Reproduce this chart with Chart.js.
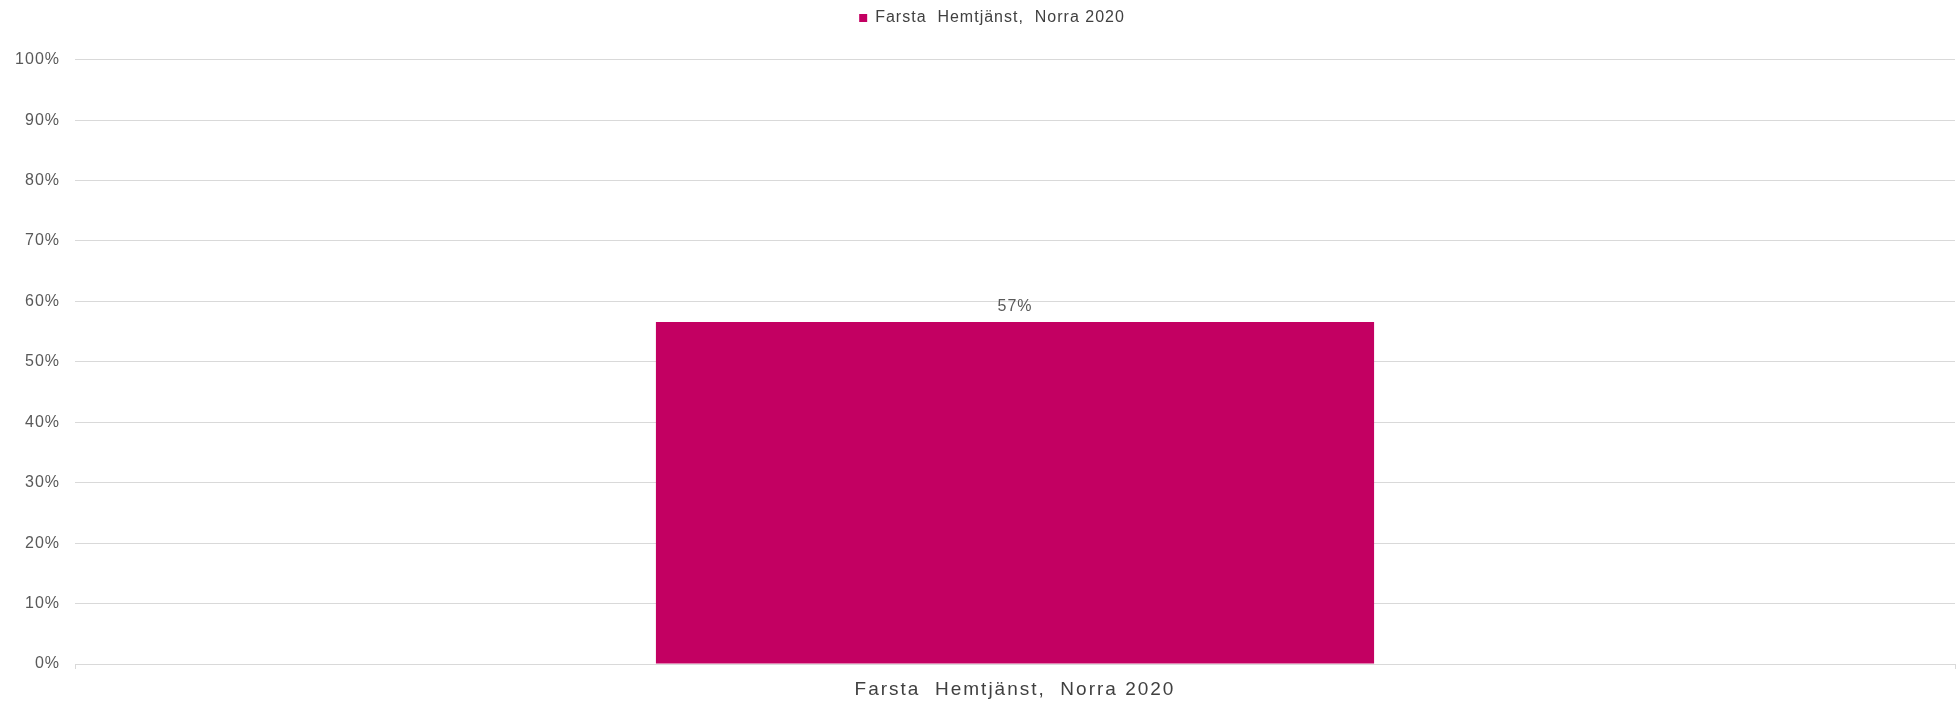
<!DOCTYPE html>
<html>
<head>
<meta charset="utf-8">
<script src="https://cdn.jsdelivr.net/npm/chart.js@4/dist/chart.umd.min.js"></script>
<style>
  html, body { margin: 0; padding: 0; background: #ffffff; }
  canvas { display: block; }
</style>
</head>
<body>
<canvas id="c" width="1959" height="704"></canvas>
<script>
const categories = ['Farsta  Hemtjänst,  Norra 2020'];
const seriesName = 'Farsta  Hemtjänst,  Norra 2020';
const values = [56.6];
const yMin = 0;
const yMax = 100;
const yStep = 10;

const FONT = "'Liberation Sans', Arial, sans-serif";
const TEXT = '#595959';
const DARK = '#404040';
const GRID = '#D9D9D9';
const BAR = '#C30062';

const spacingPlugin = {
  id: 'spacing',
  beforeUpdate(chart) { chart.ctx.letterSpacing = '1px'; },
  afterLayout(chart) {
    if (chart.legend) {
      chart.legend.left += 29;
      chart.legend.top += 1;
      chart.legend.bottom += 1;
    }
  },
  beforeDraw(chart) {
    chart.ctx.letterSpacing = '1px';
    const xs = chart.scales.x;
    if (xs && !xs._patched) {
      const orig = xs.drawLabels;
      xs.drawLabels = function (a) {
        const c = this.ctx; c.save(); c.letterSpacing = '2px'; orig.call(this, a); c.restore();
      };
      xs._patched = true;
    }
  }
};

const valueLabels = {
  id: 'valueLabels',
  afterDatasetsDraw(chart) {
    const ctx = chart.ctx;
    chart.data.datasets.forEach((ds, di) => {
      const meta = chart.getDatasetMeta(di);
      meta.data.forEach((el, i) => {
        ctx.save();
        ctx.letterSpacing = '1px';
        ctx.font = '16px ' + FONT;
        ctx.fillStyle = TEXT;
        ctx.textAlign = 'center';
        ctx.textBaseline = 'middle';
        ctx.fillText(Math.round(ds.data[i]) + '%', el.x, el.y - 15);
        ctx.restore();
      });
    });
  }
};

new Chart(document.getElementById('c'), {
  type: 'bar',
  data: {
    labels: categories,
    datasets: [{
      label: seriesName,
      data: values,
      backgroundColor: BAR,
      borderWidth: 0,
      barPercentage: 0.382,
      categoryPercentage: 1.0
    }]
  },
  options: {
    responsive: false,
    animation: false,
    devicePixelRatio: 1,
    layout: { padding: { left: 0, right: 4, top: 0, bottom: 0 } },
    plugins: {
      tooltip: { enabled: false },
      legend: {
        display: true,
        position: 'top',
        labels: {
          boxWidth: 8,
          boxHeight: 8,
          padding: 9,
          color: DARK,
          font: { family: FONT, size: 16 }
        }
      },
      title: {
        display: true,
        text: ' ',
        weight: 500,
        color: 'rgba(0,0,0,0)',
        font: { size: 1 },
        padding: { top: 0, bottom: 23.5 }
      }
    },
    scales: {
      x: {
        offset: true,
        grid: {
          offset: true,
          drawOnChartArea: false,
          drawTicks: true,
          tickLength: 5,
          color: GRID
        },
        border: { display: true, color: GRID, width: 1 },
        ticks: {
          color: DARK,
          padding: 9,
          font: { family: FONT, size: 19 }
        },
        afterFit(s) { s.height = 40; }
      },
      y: {
        min: yMin,
        max: yMax,
        grid: { color: GRID, lineWidth: 1, drawTicks: false },
        border: { display: false },
        ticks: {
          stepSize: yStep,
          padding: 15,
          color: TEXT,
          font: { family: FONT, size: 16 },
          callback: v => v + '%'
        },
        afterFit(s) { s.width = 75; }
      }
    }
  },
  plugins: [spacingPlugin, valueLabels]
});
</script>
</body>
</html>
